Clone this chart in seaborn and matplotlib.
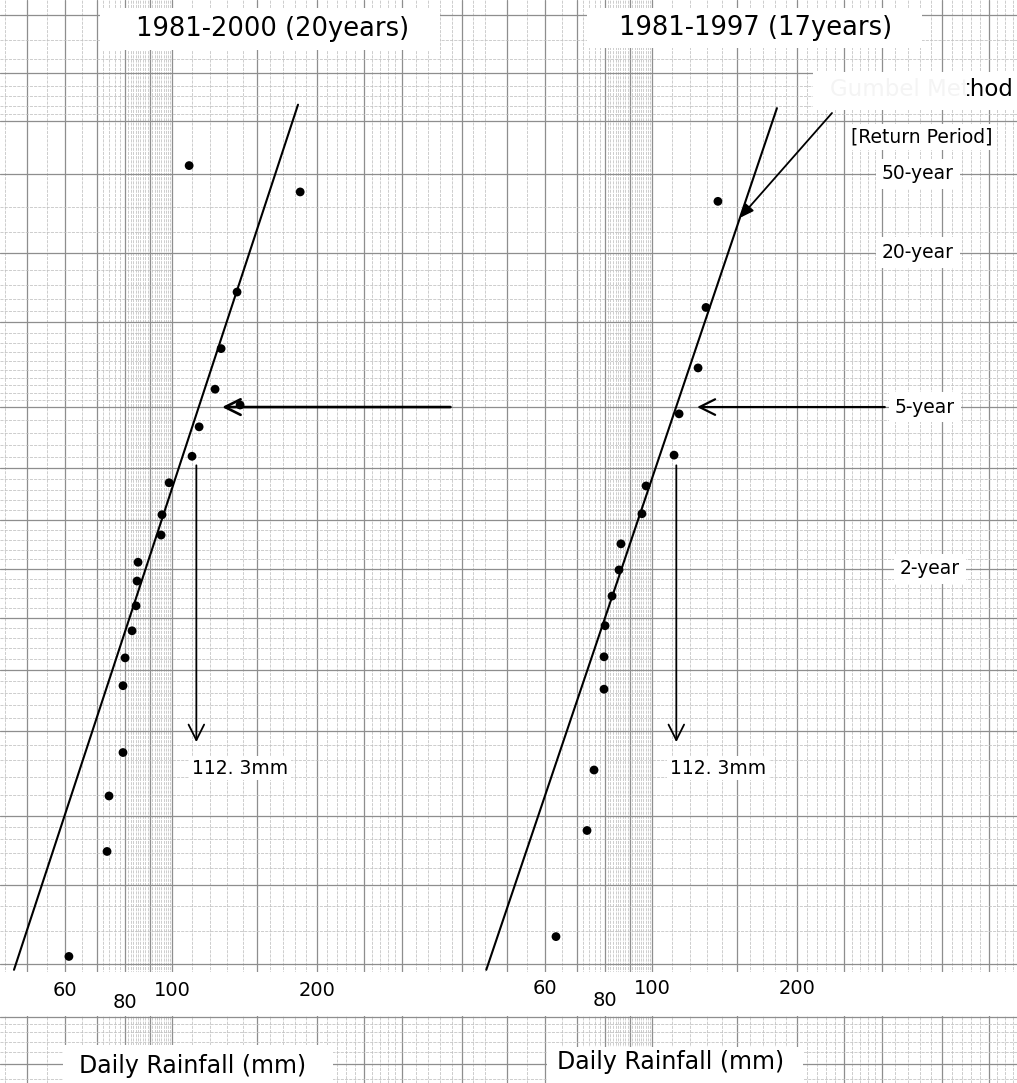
import numpy as np
import pandas as pd
import matplotlib
matplotlib.use("Agg")
import matplotlib.pyplot as plt
from matplotlib.patches import Rectangle
from matplotlib.ticker import FixedLocator, NullFormatter
from matplotlib.transforms import blended_transform_factory
import seaborn as sns
from statistics import NormalDist

# ---------------------------------------------------------------------------
# Annual maximum daily rainfall (mm) and plotted non-exceedance probability (%)
# ---------------------------------------------------------------------------
rain_8100 = [108.5, 184.4, 136.4, 126.4, 122.8, 138.4, 113.8, 110.0, 98.6, 95.3,
             94.9, 85.0, 84.6, 84.2, 82.6, 79.9, 79.1, 79.1, 74.0, 73.3, 61.1]
prob_8100 = [98.2, 97.5, 92.5, 87.4, 82.5, 80.3, 77.0, 72.1, 67.3, 61.1,
             57.0, 51.4, 47.5, 42.4, 37.4, 32.2, 27.2, 17.0, 11.9, 7.1, 2.2]

rain_8197 = [137.0, 129.4, 124.6, 113.8, 111.1, 97.2, 95.3, 86.2, 85.4, 82.6,
             79.9, 79.5, 79.5, 75.8, 73.3, 63.2]
prob_8197 = [97.2, 91.3, 85.2, 79.0, 72.3, 66.7, 61.3, 55.2, 49.8, 44.4,
             38.4, 32.4, 26.6, 14.8, 8.7, 2.8]

# hand-fitted straight lines (end points: rainfall mm, probability %)
fit_rain_8100 = [47.0, 182.5]
fit_prob_8100 = [1.86, 99.21]
fit_rain_8197 = [45.3, 181.6]
fit_prob_8197 = [1.86, 99.17]

design_rain = 112.3            # 5-year daily rainfall (mm)
return_periods = [50, 20, 5, 2]
tick_values = [60, 80, 100, 200]
titles = ["1981-2000 (20years)", "1981-1997 (17years)"]

# ---------------------------------------------------------------------------
sns.set_style("white")
plt.rcParams["font.family"] = ["DejaVu Sans"]
plt.rcParams["text.color"] = "black"

W, H = 1017, 1083
fig = plt.figure(figsize=(W / 100, H / 100), dpi=100)
fig.patch.set_facecolor("white")


def fpx(x, y):
    """figure pixel (from top-left) -> figure fraction"""
    return x / W, 1 - y / H


_nd = NormalDist()
_ppf = np.vectorize(_nd.inv_cdf, otypes=[float])
_cdf = np.vectorize(_nd.cdf, otypes=[float])


def to_z(p):
    p = np.clip(np.asarray(p, dtype=float) / 100.0, 1e-7, 1 - 1e-7)
    return _ppf(p)


def from_z(z):
    return 100.0 * _cdf(np.asarray(z, dtype=float))


# probability-paper grid
x_major = [50, 60, 70, 80, 90, 100, 150, 200, 250, 300, 400, 500]
x_minor = np.concatenate([np.arange(45, 70, 5), np.arange(72, 80, 2),
                          np.arange(81, 100, 1), np.arange(110, 300, 10),
                          np.arange(320, 620, 20)]).astype(float)
x_minor = [v for v in x_minor if not np.any(np.isclose(v, x_major))]

y_major = [0.5, 1, 2, 5, 10, 20, 30, 40, 50, 60, 70, 80, 90, 95, 98, 99, 99.5, 99.8]
y_minor = np.concatenate([np.arange(0.4, 1.0, 0.1), np.arange(1, 10, 1),
                          np.arange(10, 80, 2), np.arange(80, 99, 1),
                          np.arange(99.1, 99.95, 0.1)])
y_minor = [v for v in y_minor if not np.any(np.isclose(v, y_major))]

ax_l = fig.add_axes([0, 0, 480 / W, 1])
ax_r = fig.add_axes([480 / W, 0, 537 / W, 1])

panels = [
    (ax_l, rain_8100, prob_8100, fit_rain_8100, fit_prob_8100, 435.3),
    (ax_r, rain_8197, prob_8197, fit_rain_8197, fit_prob_8197, 571.8),
]

for ax, rain, prob, fr, fp, xmax in panels:
    ax.set_xscale("log")
    ax.set_yscale("function", functions=(to_z, from_z))
    df = pd.DataFrame({"rain": rain, "prob": prob})
    fit = pd.DataFrame({"rain": fr, "prob": fp})
    sns.lineplot(data=fit, x="rain", y="prob", ax=ax, color="black", lw=1.5,
                 sort=False, estimator=None, zorder=4)
    sns.scatterplot(data=df, x="rain", y="prob", ax=ax, color="black", s=40,
                    edgecolor="none", zorder=5)
    ax.set_xlim(43.96, xmax)
    ax.set_ylim(0.377, 99.845)

    ax.xaxis.set_major_locator(FixedLocator(x_major))
    ax.xaxis.set_minor_locator(FixedLocator(x_minor))
    ax.yaxis.set_major_locator(FixedLocator(y_major))
    ax.yaxis.set_minor_locator(FixedLocator(y_minor))
    for axis in (ax.xaxis, ax.yaxis):
        axis.set_major_formatter(NullFormatter())
        axis.set_minor_formatter(NullFormatter())
    ax.tick_params(which="both", length=0)
    ax.set_xlabel("")
    ax.set_ylabel("")
    ax.set_axisbelow(True)
    ax.grid(which="major", color="#8e8e8e", lw=0.9)
    ax.grid(which="minor", color="#c0c0c0", lw=0.55, ls=(0, (4, 1.5)))
    for s in ax.spines.values():
        s.set_visible(False)
    ax.set_facecolor("white")

# 5-year reading: horizontal arrows to the line, vertical arrows to the axis
p5 = 100 * (1 - 1 / 5)
head_h = dict(arrowstyle="->,head_length=0.7,head_width=0.35", color="black",
              shrinkA=0, shrinkB=0, mutation_scale=16)
ax_l.annotate("", xy=(127, p5), xytext=(378, p5),
              arrowprops=dict(lw=1.9, **head_h), zorder=6)
ax_r.annotate("", xy=(124, p5), xytext=(304, p5),
              arrowprops=dict(lw=1.6, **head_h), zorder=6)
for ax in (ax_l, ax_r):
    ax.annotate("", xy=(design_rain, 18.4), xytext=(design_rain, 70.5),
                arrowprops=dict(lw=1.3, **head_h), zorder=6)

label_mm = f"{design_rain:.1f}".replace(".", ". ") + "mm"
for cx in (240, 718):
    fig.text(*fpx(cx, 768), label_mm, ha="center", va="center", fontsize=13.5,
             zorder=3, bbox=dict(boxstyle="square,pad=0.15", fc="white", ec="none"))

# pointer from the method label to the line
ax_r.annotate("", xy=(152.1, 96.6), xytext=fpx(832, 113),
              textcoords="figure fraction",
              arrowprops=dict(arrowstyle="-|>,head_length=0.6,head_width=0.25",
                              color="black", lw=1.3, shrinkA=0, shrinkB=0,
                              mutation_scale=14), zorder=6)

# return-period labels on the right panel
rp_x = {50: 918, 20: 918, 5: 925, 2: 930}
trans_r = blended_transform_factory(fig.transFigure, ax_r.transData)
for T in return_periods:
    ax_r.text(rp_x[T] / W, 100 * (1 - 1 / T), f"{T}-year", transform=trans_r,
              ha="center", va="center", fontsize=13.5, zorder=7, color="black",
              bbox=dict(boxstyle="square,pad=0.3", fc="white", ec="none"))
fig.text(*fpx(922, 137), "[Return Period]", ha="center", va="center",
         fontsize=13.5, zorder=3,
         bbox=dict(boxstyle="square,pad=0.2", fc="white", ec="none"))


def white_box(x0, y0, x1, y1, alpha=1.0, z=2):
    fig.add_artist(Rectangle(fpx(x0, y1), (x1 - x0) / W, (y1 - y0) / H,
                             transform=fig.transFigure, fc="white", ec="none",
                             alpha=alpha, zorder=z))


# titles
white_box(100, 8, 440, 50)
white_box(587, 8, 922, 48)
fig.text(*fpx(273, 29), titles[0], ha="center", va="center", fontsize=18.5, zorder=3)
fig.text(*fpx(756, 28), titles[1], ha="center", va="center", fontsize=18.5, zorder=3)

# method label, partly pasted over
white_box(813, 72, 1017, 110)
meth_kw = dict(ha="right", va="center", fontsize=16.5, zorder=3)
fig.text(*fpx(1013, 90), "Gumbel Method", **meth_kw)
tmp = fig.text(*fpx(1013, 90), "hod", **meth_kw)
fig.canvas.draw()
w_hod = tmp.get_window_extent().width
tmp.remove()
white_box(813, 72, 1013 - w_hod - 3, 110, alpha=0.96, z=4)

# x tick labels on a pasted strip
white_box(0, 972, W, 1016)
for ax, y_main in ((ax_l, 990), (ax_r, 988)):
    tr = blended_transform_factory(ax.transData, fig.transFigure)
    for v in tick_values:
        yy = y_main + 12 if v == 80 else y_main
        fig.text(v, 1 - yy / H, str(v), transform=tr, ha="center", va="center",
                 fontsize=14, zorder=3)

# axis captions
white_box(63, 1045, 333, H)
white_box(547, 1047, 803, H)
fig.text(*fpx(193, 1066), "Daily Rainfall (mm)", ha="center", va="center",
         fontsize=17, zorder=3)
fig.text(*fpx(671, 1062), "Daily Rainfall (mm)", ha="center", va="center",
         fontsize=17, zorder=3)

fig.savefig("out.png", dpi=100)
